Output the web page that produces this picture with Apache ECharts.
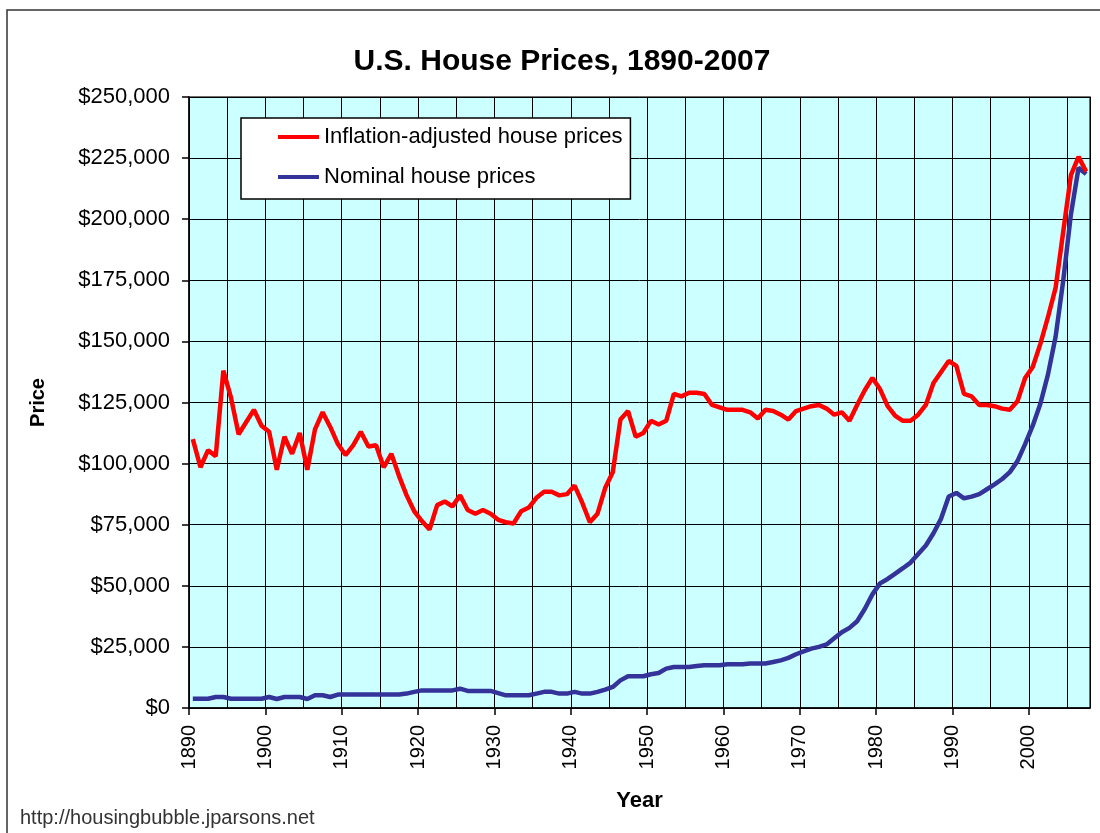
<!DOCTYPE html>
<html>
<head>
<meta charset="utf-8">
<title>U.S. House Prices, 1890-2007</title>
<script src="https://cdn.jsdelivr.net/npm/echarts@6/dist/echarts.min.js"></script>
<style>
  html, body { margin: 0; padding: 0; background: #fff; }
  #chart { width: 1100px; height: 833px; }
</style>
</head>
<body>
<div id="chart"></div>
<script>
// annual values, 1890-2007
const years = Array.from({ length: 118 }, (_, i) => 1890 + i);

const realPrices = [
  110000, 98500, 105500, 103000, 138000, 127000, 112000, 117000, 122000, 115500,
  113000, 97500, 111000, 104000, 112500, 97500, 114000, 121000, 115000, 108000,
  103500, 107500, 113000, 107000, 107500, 98500, 104000, 95000, 87000, 80500,
  76500, 73000, 83000, 84500, 82500, 87000, 81000, 79500, 81000, 79500,
  77000, 76000, 75500, 80500, 82000, 86000, 88500, 88500, 87000, 87500,
  91000, 84000, 76000, 79500, 90000, 96500, 118000, 121500, 111000, 112500,
  117500, 116000, 117500, 128500, 127500, 129000, 129000, 128500, 124000, 123000,
  122000, 122000, 122000, 121000, 118500, 122000, 121500, 120000, 118000, 121500,
  122500, 123500, 124000, 122500, 120000, 121000, 117500, 124000, 130000, 135000,
  130500, 123500, 119500, 117500, 117500, 120000, 124000, 133000, 137500, 142000,
  140000, 128500, 127500, 124000, 124000, 123500, 122500, 122000, 125500, 135000,
  139500, 149000, 160000, 172000, 195000, 218000, 225500, 219500
];

const nominalPrices = [
  3800, 3800, 3800, 4500, 4500, 3800, 3800, 3800, 3800, 3800,
  4500, 3700, 4500, 4500, 4500, 3700, 5200, 5200, 4500, 5500,
  5500, 5500, 5500, 5500, 5500, 5500, 5500, 5500, 5900, 6600,
  7200, 7200, 7200, 7200, 7200, 7900, 7000, 7000, 7000, 7000,
  6100, 5200, 5200, 5200, 5200, 5900, 6600, 6600, 5900, 5900,
  6600, 5900, 5900, 6600, 7500, 8600, 11300, 13000, 13000, 13000,
  13800, 14300, 16100, 16800, 16800, 16800, 17200, 17500, 17500, 17500,
  17900, 17900, 17900, 18200, 18200, 18200, 18800, 19500, 20500, 22000,
  23200, 24300, 25000, 26000, 28500, 31000, 32800, 35500, 40500, 46500,
  51000, 52800, 55000, 57200, 59500, 63000, 66500, 71500, 77500, 86500,
  88000, 85800, 86500, 87500, 89500, 91500, 93700, 96500, 101000, 108000,
  115500, 124500, 136500, 152000, 175000, 202000, 221000, 218500
];

const yearLabels = [1890, 1900, 1910, 1920, 1930, 1940, 1950, 1960, 1970, 1980, 1990, 2000];
const seriesNames = ['Inflation-adjusted house prices', 'Nominal house prices'];

const FONT = "'Liberation Sans', Arial, sans-serif";

const chart = echarts.init(document.getElementById('chart'));

// points sit at mid-year
const toPoints = (vals) => vals.map((v, i) => [years[i] + 0.5, v]);

const option = {
  backgroundColor: '#fff',
  animation: false,
  textStyle: { fontFamily: FONT },
  title: [
    {
      text: 'U.S. House Prices, 1890-2007',
      left: 557,
      top: 42,
      textAlign: 'center',
      textStyle: { fontFamily: FONT, fontSize: 30, fontWeight: 'bold', color: '#000' }
    },
    {
      text: 'http://housingbubble.jparsons.net',
      left: 20,
      top: 808,
      padding: 0,
      textStyle: { fontFamily: FONT, fontSize: 20, fontWeight: 'normal', color: '#333' }
    }
  ],
  graphic: [
    {
      type: 'rect',
      shape: { x: 7, y: 10, width: 1120, height: 850 },
      style: { fill: 'none', stroke: '#333', lineWidth: 1.5 },
      silent: true
    }
  ],
  legend: {
    data: seriesNames,
    orient: 'vertical',
    left: 241,
    top: 118,
    icon: 'rect',
    itemWidth: 41,
    itemHeight: 4,
    itemGap: 18,
    padding: [8, 8, 11, 37],
    backgroundColor: '#fff',
    borderColor: '#000',
    borderWidth: 1.5,
    borderRadius: 0,
    textStyle: { fontFamily: FONT, fontSize: 22, color: '#000' }
  },
  grid: {
    left: 189,
    top: 97,
    right: 10,
    bottom: 125,
    show: true,
    backgroundColor: '#CCFFFF',
    borderColor: '#404040',
    borderWidth: 1.5
  },
  xAxis: [
    {
      // 5-year grid lines
      type: 'value',
      position: 'bottom',
      min: 1890,
      max: 2008,
      interval: 5,
      axisLine: { show: true, lineStyle: { color: '#000', width: 1.5 } },
      axisTick: { show: false },
      axisLabel: { show: false },
      splitLine: { show: true, lineStyle: { color: '#000', width: 1 } },
      name: 'Year',
      nameLocation: 'middle',
      nameGap: 82,
      nameTextStyle: { fontFamily: FONT, fontSize: 22, fontWeight: 'bold', color: '#000' }
    },
    {
      // decade ticks and labels
      type: 'value',
      position: 'bottom',
      min: 1890,
      max: 2008,
      interval: 10,
      axisLine: { show: false },
      axisTick: {
        show: true,
        customValues: yearLabels,
        length: 7,
        lineStyle: { color: '#000', width: 1.5 }
      },
      axisLabel: {
        customValues: yearLabels,
        formatter: (v) => String(v),
        rotate: 90,
        margin: 17,
        fontFamily: FONT,
        fontSize: 20,
        color: '#000'
      },
      splitLine: { show: false }
    }
  ],
  yAxis: {
    type: 'value',
    min: 0,
    max: 250000,
    interval: 25000,
    axisLine: { show: true, lineStyle: { color: '#000', width: 1.5 } },
    axisTick: { show: true, length: 7, lineStyle: { color: '#000', width: 1.5 } },
    axisLabel: {
      margin: 19,
      fontFamily: FONT,
      fontSize: 22,
      color: '#000',
      formatter: (v) => '$' + String(v).replace(/\B(?=(\d{3})+(?!\d))/g, ',')
    },
    splitLine: { show: true, lineStyle: { color: '#000', width: 1 } },
    name: 'Price',
    nameLocation: 'middle',
    nameRotate: 90,
    nameGap: 141,
    nameTextStyle: { fontFamily: FONT, fontSize: 20, fontWeight: 'bold', color: '#000' }
  },
  series: [
    {
      name: seriesNames[0],
      type: 'line',
      xAxisIndex: 0,
      data: toPoints(realPrices),
      showSymbol: false,
      color: '#FF0000',
      lineStyle: { color: '#FF0000', width: 4.5 },
      z: 3
    },
    {
      name: seriesNames[1],
      type: 'line',
      xAxisIndex: 0,
      data: toPoints(nominalPrices),
      showSymbol: false,
      color: '#333399',
      lineStyle: { color: '#333399', width: 4.5 },
      z: 2
    }
  ]
};

chart.setOption(option);
</script>
</body>
</html>
